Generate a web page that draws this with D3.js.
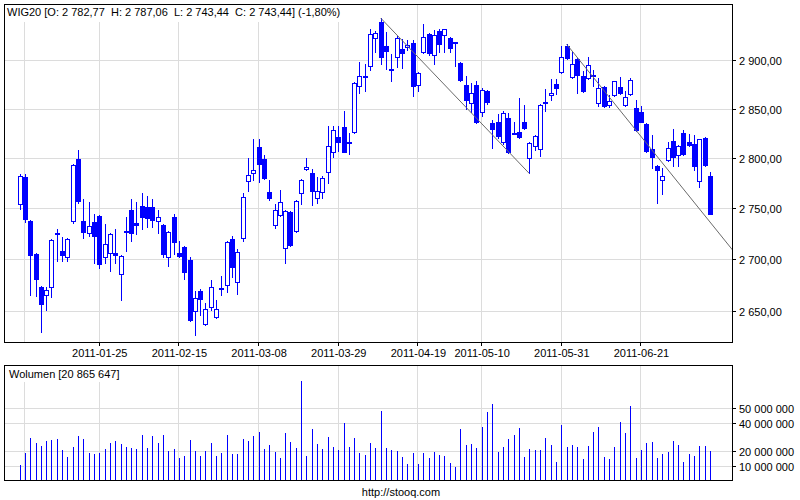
<!DOCTYPE html>
<html><head><meta charset="utf-8">
<script src="https://cdn.jsdelivr.net/npm/d3@7"></script>
<style>
body{margin:0;background:#fff}
svg{display:block}
text{font-family:"Liberation Sans",Arial,sans-serif;font-size:11px;fill:#000}
</style>
</head><body>
<svg id="chart" width="800" height="500"></svg>
<script>
// ---- DATA ----
const dates = [
"2011-01-03","2011-01-04","2011-01-05","2011-01-07","2011-01-10","2011-01-11","2011-01-12","2011-01-13","2011-01-14","2011-01-17",
"2011-01-18","2011-01-19","2011-01-20","2011-01-21","2011-01-24","2011-01-25","2011-01-26","2011-01-27","2011-01-28","2011-01-31",
"2011-02-01","2011-02-02","2011-02-03","2011-02-04","2011-02-07","2011-02-08","2011-02-09","2011-02-10","2011-02-11","2011-02-14",
"2011-02-15","2011-02-16","2011-02-17","2011-02-18","2011-02-21","2011-02-22","2011-02-23","2011-02-24","2011-02-25","2011-02-28",
"2011-03-01","2011-03-02","2011-03-03","2011-03-04","2011-03-07","2011-03-08","2011-03-09","2011-03-10","2011-03-11","2011-03-14",
"2011-03-15","2011-03-16","2011-03-17","2011-03-18","2011-03-21","2011-03-22","2011-03-23","2011-03-24","2011-03-25","2011-03-28",
"2011-03-29","2011-03-30","2011-03-31","2011-04-01","2011-04-04","2011-04-05","2011-04-06","2011-04-07","2011-04-08","2011-04-11",
"2011-04-12","2011-04-13","2011-04-14","2011-04-15","2011-04-18","2011-04-19","2011-04-20","2011-04-21","2011-04-26","2011-04-27",
"2011-04-28","2011-04-29","2011-05-02","2011-05-04","2011-05-05","2011-05-06","2011-05-09","2011-05-10","2011-05-11","2011-05-12",
"2011-05-13","2011-05-16","2011-05-17","2011-05-18","2011-05-19","2011-05-20","2011-05-23","2011-05-24","2011-05-25","2011-05-26",
"2011-05-27","2011-05-30","2011-05-31","2011-06-01","2011-06-02","2011-06-03","2011-06-06","2011-06-07","2011-06-08","2011-06-09",
"2011-06-10","2011-06-13","2011-06-14","2011-06-15","2011-06-16","2011-06-17","2011-06-20","2011-06-21","2011-06-22","2011-06-24",
"2011-06-27","2011-06-28","2011-06-29","2011-06-30","2011-07-01","2011-07-04","2011-07-05","2011-07-06","2011-07-07","2011-07-08",
"2011-07-11"];

const open = [
2754,2782,2738,2706,2674,2665,2673,2726,2709,2702,
2737,2800,2738,2725,2737,2743,2702,2706,2707,2685,
2726,2749,2736,2753,2752,2752,2737,2734,2702,2742,
2707,2713,2700,2650,2670,2638,2654,2644,2673,2675,
2720,2678,2720,2777,2785,2812,2800,2767,2733,2743,
2711,2747,2727,2765,2789,2786,2760,2766,2786,2806,
2822,2832,2815,2826,2873,2883,2894,2923,2941,2916,
2892,2903,2912,2914,2919,2874,2908,2928,2905,2931,
2926,2924,2920,2898,2875,2856,2875,2846,2869,2836,
2837,2816,2841,2826,2827,2837,2800,2812,2809,2856,
2864,2876,2888,2916,2882,2902,2884,2881,2885,2856,
2873,2853,2864,2873,2853,2865,2851,2847,2835,2810,
2793,2778,2798,2818,2803,2826,2817,2815,2777,2821,
2782.77];

const high = [
2785,2785,2739,2707,2675,2674,2720,2730,2722,2721,
2795,2809,2760,2757,2745,2744,2735,2726,2730,2705,
2742,2760,2757,2766,2763,2760,2749,2735,2728,2745,
2718,2714,2703,2670,2672,2659,2681,2661,2684,2718,
2723,2711,2766,2801,2820,2820,2804,2779,2755,2769,
2749,2748,2759,2780,2801,2790,2782,2783,2833,2833,
2833,2848,2826,2878,2899,2897,2933,2931,2945,2930,
2907,2926,2923,2922,2922,2889,2939,2929,2932,2934,
2934,2925,2920,2899,2884,2877,2879,2872,2870,2839,
2845,2848,2846,2837,2862,2854,2817,2824,2855,2871,
2881,2881,2916,2918,2910,2903,2890,2904,2891,2882,
2874,2865,2879,2883,2869,2882,2860,2853,2836,2824,
2794,2791,2817,2830,2814,2829,2825,2824,2820,2822,
2787.06];

const low = [
2749,2736,2665,2664,2630,2651,2663,2698,2698,2698,
2735,2755,2720,2722,2696,2691,2696,2688,2696,2660,
2708,2717,2724,2729,2731,2731,2725,2702,2693,2705,
2702,2681,2640,2627,2646,2637,2651,2643,2665,2668,
2683,2666,2717,2767,2778,2776,2779,2758,2730,2742,
2696,2713,2726,2754,2788,2753,2755,2760,2775,2801,
2807,2806,2804,2825,2866,2868,2890,2908,2896,2891,
2878,2893,2892,2910,2863,2868,2907,2905,2896,2908,
2908,2908,2894,2878,2849,2846,2835,2842,2854,2810,
2820,2814,2805,2824,2820,2829,2785,2808,2802,2847,
2859,2865,2886,2901,2881,2866,2867,2880,2873,2852,
2851,2851,2863,2865,2852,2864,2827,2836,2806,2790,
2755,2764,2797,2792,2792,2803,2812,2788,2771,2792,
2743.44];

const close = [
2783,2739,2704,2681,2657,2671,2719,2724,2704,2720,
2794,2757,2726,2733,2722,2695,2715,2725,2704,2704,
2728,2725,2733,2741,2740,2738,2742,2705,2727,2716,
2703,2687,2641,2663,2661,2653,2674,2653,2672,2717,
2692,2708,2762,2784,2789,2794,2780,2760,2749,2757,
2748,2714,2758,2779,2792,2767,2768,2781,2813,2829,
2816,2806,2817,2877,2884,2884,2928,2929,2903,2909,
2891,2924,2907,2917,2873,2888,2925,2907,2927,2917,
2933,2913,2919,2879,2859,2867,2836,2870,2857,2829,
2822,2846,2806,2825,2821,2830,2816,2823,2854,2858,
2867,2871,2904,2902,2897,2884,2868,2896,2884,2872,
2852,2859,2879,2866,2863,2880,2828,2836,2807,2801,
2788,2783,2811,2801,2813,2804,2813,2792,2820,2793,
2743.44];

const volume = [
10.7e6,19.1e6,29.6e6,26.1e6,24.0e6,27.5e6,28.2e6,28.9e6,21.2e6,16.3e6,
23.3e6,30.9e6,28.9e6,19.1e6,18.4e6,19.1e6,21.9e6,26.1e6,27.5e6,25.4e6,
23.3e6,22.6e6,21.9e6,31.6e6,22.6e6,30.9e6,26.1e6,31.6e6,20.5e6,21.9e6,
15.6e6,17.0e6,28.2e6,20.5e6,17.0e6,20.5e6,26.1e6,17.0e6,19.1e6,31.6e6,
18.4e6,18.4e6,28.9e6,27.5e6,30.9e6,33.7e6,21.9e6,24.7e6,19.8e6,15.6e6,
33.0e6,26.8e6,22.6e6,69.3e6,17.0e6,35.8e6,25.4e6,21.9e6,30.2e6,23.3e6,
21.2e6,40.0e6,23.3e6,29.6e6,19.1e6,17.7e6,26.1e6,22.6e6,48.4e6,22.6e6,
21.2e6,20.5e6,16.3e6,11.4e6,19.1e6,11.4e6,19.1e6,15.6e6,19.8e6,17.7e6,
17.0e6,12.1e6,9.3e6,35.8e6,24.7e6,25.4e6,22.6e6,37.2e6,47.7e6,53.3e6,
19.8e6,23.3e6,28.9e6,31.6e6,36.5e6,16.3e6,21.9e6,21.2e6,21.2e6,29.6e6,
24.7e6,12.8e6,38.6e6,23.3e6,24.7e6,23.3e6,14.9e6,24.0e6,33.7e6,37.2e6,
16.3e6,14.9e6,23.3e6,40.7e6,33.0e6,51.9e6,15.6e6,21.2e6,26.1e6,26.8e6,
15.6e6,18.4e6,19.8e6,27.5e6,24.7e6,12.8e6,18.4e6,17.0e6,24.0e6,24.0e6,
20865647];

const changePct = -1.80;
const priceTicks = [2650, 2700, 2750, 2800, 2850, 2900];
const volumeTicks = [10e6, 20e6, 40e6, 50e6];
const dateLabels = ["2011-01-25","2011-02-15","2011-03-08","2011-03-29","2011-04-19","2011-05-10","2011-05-31","2011-06-21"];
const gridDates = ["2011-01-04"].concat(dateLabels);
const trendA = [["2011-04-08", 2945], ["2011-05-23", 2785]];
const trendB = [["2011-06-01", 2917.5], ["2011-07-11", 2737]];

// ---- LAYOUT ----
const BLUE = "#0000ff", GRID = "#dcdcdc";
const L = 4.5, R = 732.5, T = 4.5, B = 342.5, VT = 365.5, VB = 480.5;
const svg = d3.select("#chart");
const x = d3.scalePoint().domain(dates).range([19.6, 710]);
const y = d3.scaleLog().domain([2621.1, 2959.4]).range([B, T]);
const yv = d3.scaleLinear().domain([0, 80.3e6]).range([VB, VT]);
const px = v => Math.floor(v) + 0.5;
const loc = d3.formatLocale({decimal: ",", thousands: " ", grouping: [3], currency: ["", ""], minus: "-"});
const fPrice = loc.format(",.2f");
const fVol = loc.format(",.0f");

svg.append("rect").attr("width", 800).attr("height", 500).attr("fill", "#fff");

// ---- MAIN PANEL GRID ----
const g = svg.append("g").attr("shape-rendering", "crispEdges");
g.selectAll(".hg").data(priceTicks).join("line")
  .attr("x1", L).attr("x2", R).attr("y1", d => px(y(d))).attr("y2", d => px(y(d)))
  .attr("stroke", GRID);
g.selectAll(".vg").data(gridDates).join("line")
  .attr("x1", d => px(x(d))).attr("x2", d => px(x(d))).attr("y1", T).attr("y2", B)
  .attr("stroke", GRID);

// title
const n = dates.length - 1;
const titleStr = "WIG20 [O: " + fPrice(open[n]) + "  H: " + fPrice(high[n]) + "  L: " + fPrice(low[n]) +
  "  C: " + fPrice(close[n]) + "] (" + loc.format(".2f")(changePct) + "%)";
const tBox = svg.append("rect").attr("x", 5).attr("y", 5).attr("height", 17).attr("fill", "#fff");
const tTxt = svg.append("text").attr("x", 7).attr("y", 16).style("white-space", "pre").text(titleStr);
tBox.attr("width", tTxt.node().getBBox().width + 4);

// candles
const cg = svg.append("g").attr("shape-rendering", "crispEdges");
dates.forEach((d, i) => {
  const c = Math.round(x(d));
  const yh = Math.round(y(high[i])), yl = Math.round(y(low[i]));
  const top = Math.round(y(Math.max(open[i], close[i])));
  const bot = Math.round(y(Math.min(open[i], close[i])));
  cg.append("line").attr("x1", c + 0.5).attr("x2", c + 0.5).attr("y1", yh).attr("y2", yl)
    .attr("stroke", BLUE);
  const up = close[i] >= open[i];
  if (!up || bot - top < 3) {
    cg.append("rect").attr("x", c - 2).attr("y", top).attr("width", 5)
      .attr("height", Math.max(2, bot - top)).attr("fill", BLUE);
  } else {
    cg.append("rect").attr("x", c - 1.5).attr("y", top + 0.5).attr("width", 4)
      .attr("height", bot - top - 1).attr("fill", "#fff").attr("stroke", BLUE);
  }
});

// trend lines
const tl = svg.append("g").attr("fill", "none").attr("stroke", "#6a6a6a").attr("stroke-width", 1);
{
  const a = trendA.map(([d, p]) => [x(d), y(p)]);
  tl.append("path").attr("d", d3.line()(a));
  const b = trendB.map(([d, p]) => [x(d), y(p)]);
  const s = (b[1][1] - b[0][1]) / (b[1][0] - b[0][0]);
  const end = [R, b[0][1] + s * (R - b[0][0])];
  tl.append("path").attr("d", d3.line()([b[0], end]));
}

// frame + axes
svg.append("rect").attr("x", L).attr("y", T).attr("width", R - L).attr("height", B - T)
  .attr("fill", "none").attr("stroke", "#000").attr("shape-rendering", "crispEdges");
const ax = svg.append("g").attr("shape-rendering", "crispEdges");
ax.selectAll(".rt").data(priceTicks).join("line")
  .attr("x1", R).attr("x2", R + 3).attr("y1", d => px(y(d))).attr("y2", d => px(y(d))).attr("stroke", "#000");
svg.selectAll(".rl").data(priceTicks).join("text")
  .attr("x", 739).attr("y", d => y(d)).attr("dy", "0.4em").text(d => fPrice(d));
ax.selectAll(".bt").data(dateLabels).join("line")
  .attr("x1", d => px(x(d))).attr("x2", d => px(x(d))).attr("y1", B).attr("y2", B + 3).attr("stroke", "#000");
svg.selectAll(".bl").data(dateLabels).join("text")
  .attr("x", d => x(d) + 0.5).attr("y", 357).attr("text-anchor", "middle").text(d => d);

// ---- VOLUME PANEL ----
const vg = svg.append("g").attr("shape-rendering", "crispEdges");
vg.selectAll(".vhg").data(volumeTicks).join("line")
  .attr("x1", L).attr("x2", R).attr("y1", d => px(yv(d))).attr("y2", d => px(yv(d))).attr("stroke", GRID);
vg.selectAll(".vvg").data(gridDates).join("line")
  .attr("x1", d => px(x(d))).attr("x2", d => px(x(d))).attr("y1", VT).attr("y2", VB).attr("stroke", GRID);
const vBox = svg.append("rect").attr("x", 5).attr("y", 366).attr("height", 16).attr("fill", "#fff");
const vTxt = svg.append("text").attr("x", 9).attr("y", 378).text("Wolumen [" + fVol(volume[n]) + "]");
vBox.attr("width", vTxt.node().getBBox().width + 6);
svg.append("g").attr("shape-rendering", "crispEdges").selectAll("line").data(dates).join("line")
  .attr("x1", d => Math.round(x(d)) + 0.5).attr("x2", d => Math.round(x(d)) + 0.5)
  .attr("y1", (d, i) => Math.round(yv(volume[i]))).attr("y2", VB).attr("stroke", BLUE);
svg.append("rect").attr("x", L).attr("y", VT).attr("width", R - L).attr("height", VB - VT)
  .attr("fill", "none").attr("stroke", "#000").attr("shape-rendering", "crispEdges");
ax.selectAll(".vt").data(volumeTicks).join("line")
  .attr("x1", R).attr("x2", R + 3).attr("y1", d => px(yv(d))).attr("y2", d => px(yv(d))).attr("stroke", "#000");
svg.selectAll(".vl").data(volumeTicks).join("text")
  .attr("x", 739).attr("y", d => yv(d)).attr("dy", "0.4em").text(d => fVol(d));

svg.append("text").attr("x", 401).attr("y", 496).attr("text-anchor", "middle").text("http://stooq.com");
</script>
</body></html>
